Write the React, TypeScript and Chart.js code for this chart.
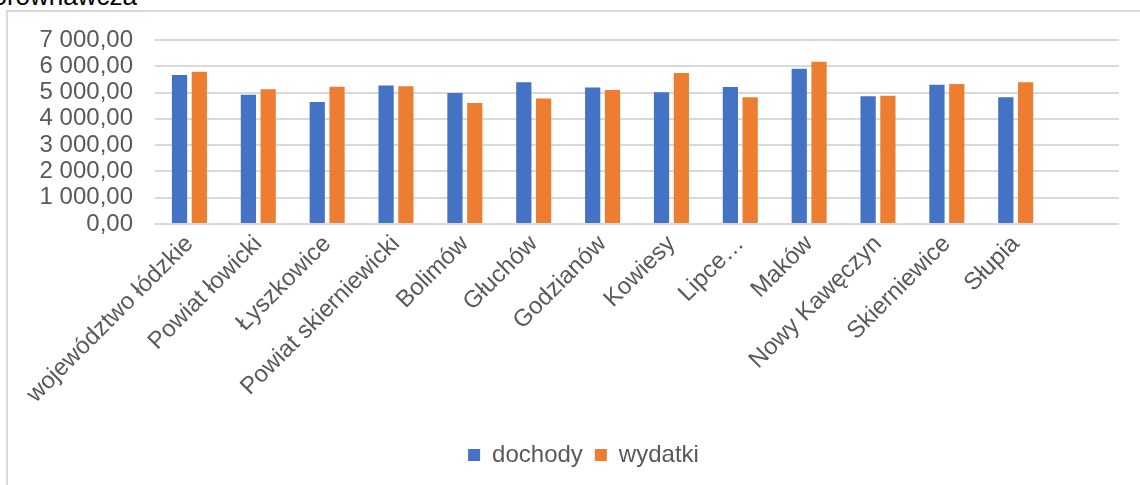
import React, { useEffect, useRef } from "react";
import { Chart, registerables } from "chart.js";

Chart.register(...registerables);

const categories: string[] = [
  "województwo łódzkie",
  "Powiat łowicki",
  "Łyszkowice",
  "Powiat skierniewicki",
  "Bolimów",
  "Głuchów",
  "Godzianów",
  "Kowiesy",
  "Lipce…",
  "Maków",
  "Nowy Kawęczyn",
  "Skierniewice",
  "Słupia",
  "",
];

const dochody: (number | null)[] = [5670, 4920, 4640, 5265, 4985, 5395, 5190, 5010, 5215, 5905, 4860, 5300, 4820, null];
const wydatki: (number | null)[] = [5790, 5125, 5225, 5240, 4600, 4770, 5100, 5740, 4820, 6170, 4880, 5330, 5395, null];

const yTicks: number[] = [0, 1000, 2000, 3000, 4000, 5000, 6000, 7000];

const FONT = "'Liberation Sans', Arial, sans-serif";

function fmt(v: number): string {
  const [int, dec] = v.toFixed(2).split(".");
  return int.replace(/\B(?=(\d{3})+(?!\d))/g, " ") + "," + dec;
}

const legendShift = {
  id: "legendShift",
  afterLayout(chart: any) {
    const lg = chart.legend;
    if (lg) {
      lg.left += 24;
      lg.right += 24;
    }
  },
};

export default function App() {
  const ref = useRef<HTMLCanvasElement | null>(null);

  useEffect(() => {
    if (!ref.current) return;
    const chart = new Chart(ref.current, {
      type: "bar",
      data: {
        labels: categories,
        datasets: [
          { label: "dochody", data: dochody, backgroundColor: "#4472C4", borderWidth: 0, categoryPercentage: 0.575, barPercentage: 0.77 },
          { label: "wydatki", data: wydatki, backgroundColor: "#ED7D31", borderWidth: 0, categoryPercentage: 0.575, barPercentage: 0.77 },
        ],
      },
      plugins: [legendShift],
      options: {
        responsive: false,
        animation: false,
        layout: { padding: { top: 40, right: 21, bottom: 8, left: 0 } },
        plugins: {
          legend: {
            position: "bottom",
            labels: {
              boxWidth: 12,
              boxHeight: 12,
              padding: 12,
              color: "#595959",
              font: { family: FONT, size: 24 },
            },
          },
          tooltip: { enabled: false },
          title: { display: false },
        },
        scales: {
          x: {
            grid: { display: false, drawTicks: false },
            border: { display: false },
            ticks: {
              autoSkip: false,
              minRotation: 45,
              maxRotation: 45,
              padding: 6,
              color: "#595959",
              font: { family: FONT, size: 24 },
            },
            afterFit: (scale: any) => {
              scale.height = 207;
            },
          },
          y: {
            min: 0,
            max: 7000,
            afterBuildTicks: (scale: any) => {
              scale.ticks = yTicks.map((v) => ({ value: v }));
            },
            grid: { color: "#d9d9d9", lineWidth: 2, drawTicks: false },
            border: { display: false },
            ticks: {
              autoSkip: false,
              padding: 22,
              color: "#595959",
              font: { family: FONT, size: 24 },
              callback: (v: any) => fmt(Number(v)),
            },
            afterFit: (scale: any) => {
              scale.width = 155;
            },
          },
        },
      },
    } as any);
    return () => chart.destroy();
  }, []);

  return (
    <div style={{ position: "absolute", left: 0, top: 0, width: 1140, height: 485, overflow: "hidden", background: "#fff" }}>
      <div
        style={{
          position: "absolute",
          right: 1140 - 137,
          top: -17,
          fontFamily: FONT,
          fontSize: 26,
          lineHeight: "26px",
          whiteSpace: "nowrap",
          color: "#000",
        }}
      >
        Analiza porównawcza
      </div>
      <div
        style={{
          position: "absolute",
          left: 6,
          top: 10,
          width: 1200,
          height: 600,
          borderLeft: "2px solid #d9d9d9",
          borderTop: "2px solid #d9d9d9",
        }}
      />
      <canvas ref={ref} width={1140} height={485} style={{ position: "absolute", left: 0, top: 0 }} />
    </div>
  );
}
